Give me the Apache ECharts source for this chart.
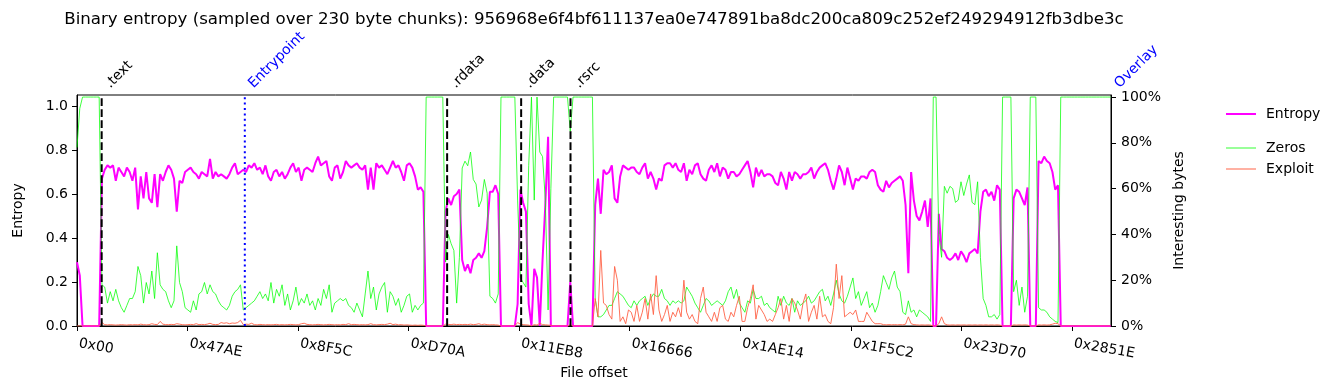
<!DOCTYPE html>
<html><head><meta charset="utf-8">
<script src="https://cdn.jsdelivr.net/npm/echarts@6/dist/echarts.min.js"></script>
<style>html,body{margin:0;padding:0;background:#fff}#c{width:1335px;height:390px}</style>
</head><body><div id="c"></div>
<script>
// ---- data ----
const chunkSize = 230;          // bytes per chunk
const chunksPerValue = 2;       // each value below covers 2 chunks
const fileEnd = 171640;         // last byte offset shown
const xTickValues = [0x0, 0x47AE, 0x8F5C, 0xD70A, 0x11EB8, 0x16666, 0x1AE14, 0x1F5C2, 0x23D70, 0x2851E];
const xTickLabels = ['0x00', '0x47AE', '0x8F5C', '0xD70A', '0x11EB8', '0x16666', '0x1AE14', '0x1F5C2', '0x23D70', '0x2851E'];
const entropyTicks = [0, 0.2, 0.4, 0.6, 0.8, 1.0];
const bytesTicks = [0, 0.2, 0.4, 0.6, 0.8, 1.0];
const sectionNames = ['.text', 'Entrypoint', '.rdata', '.data', '.rsrc', 'Overlay'];
const sectionOffsets = [0x1000, 0x6CD0, 0xF000, 0x12000, 0x14000, 171640];
const markerNames = ['Entrypoint', 'Overlay'];

const entropy = [
0.29,0.23,0,0,0,0,0,0,0,0.67,
0.71,0.73,0.72,0.73,0.66,0.72,0.70,0.68,0.72,0.70,
0.66,0.72,0.53,0.68,0.58,0.70,0.58,0.56,0.69,0.54,
0.69,0.66,0.70,0.73,0.71,0.67,0.52,0.66,0.65,0.70,
0.71,0.72,0.70,0.69,0.67,0.70,0.69,0.68,0.76,0.67,
0.70,0.68,0.69,0.68,0.67,0.69,0.72,0.74,0.69,0.70,
0.71,0.70,0.73,0.72,0.74,0.71,0.72,0.69,0.73,0.68,
0.66,0.70,0.71,0.68,0.70,0.67,0.69,0.72,0.74,0.70,
0.72,0.66,0.71,0.72,0.71,0.70,0.74,0.77,0.73,0.74,
0.75,0.68,0.66,0.72,0.73,0.67,0.70,0.75,0.73,0.72,
0.73,0.74,0.72,0.71,0.73,0.62,0.72,0.62,0.74,0.72,
0.73,0.71,0.69,0.72,0.75,0.72,0.73,0.70,0.66,0.73,
0.74,0.72,0.68,0.62,0.63,0.61,0,0,0,0,
0,0,0,0.52,0.58,0.55,0.59,0.60,0.62,0.30,
0.25,0.28,0.24,0.30,0.31,0.33,0.31,0.34,0.45,0.61,
0.61,0.64,0.60,0,0,0,0,0,0,0.10,
0.62,0.56,0.52,0.10,0,0.26,0.22,0,0.30,0.55,
0.86,0,0,0,0,0,0,0,0.20,0,
0,0,0,0,0,0,0,0.55,0.67,0.51,
0.71,0.69,0.70,0.73,0.58,0.56,0.68,0.73,0.72,0.71,
0.72,0.72,0.70,0.69,0.72,0.74,0.67,0.70,0.67,0.62,
0.67,0.66,0.73,0.74,0.74,0.72,0.74,0.71,0.70,0.74,
0.66,0.71,0.69,0.73,0.74,0.69,0.67,0.66,0.71,0.73,
0.70,0.74,0.68,0.72,0.71,0.67,0.70,0.70,0.68,0.69,
0.71,0.73,0.75,0.70,0.63,0.72,0.68,0.71,0.68,0.69,
0.69,0.68,0.65,0.64,0.70,0.67,0.62,0.70,0.66,0.70,
0.69,0.67,0.69,0.69,0.70,0.72,0.67,0.70,0.72,0.73,
0.74,0.71,0.66,0.62,0.67,0.73,0.70,0.64,0.72,0.67,
0.62,0.67,0.66,0.68,0.68,0.67,0.70,0.71,0.70,0.64,
0.62,0.61,0.66,0.63,0.65,0.66,0.67,0.68,0.66,0.55,
0.24,0.70,0.57,0.50,0.48,0.52,0.57,0.45,0.58,0,
0,0.51,0.35,0.34,0.31,0.30,0.31,0.33,0.30,0.34,
0.32,0.29,0.33,0.34,0.35,0.33,0.52,0.61,0.62,0.59,
0.61,0.57,0.64,0.62,0,0,0,0,0.58,0.62,
0.61,0.58,0.55,0.63,0,0,0,0.75,0.74,0.77,
0.75,0.74,0.70,0.62,0.64,0,0,0,0,0,
0,0,0,0,0,0,0,0,0,0,
0,0,0,0
];

const zeros = [
0.78,0.95,1,1,1,1,1,1,1,0.18,
0.17,0.10,0.15,0.11,0.16,0.11,0.08,0.06,0.09,0.12,
0.12,0.15,0.26,0.22,0.10,0.19,0.14,0.24,0.12,0.32,
0.18,0.16,0.15,0.11,0.08,0.11,0.35,0.19,0.15,0.08,
0.07,0.06,0.11,0.07,0.14,0.15,0.19,0.14,0.18,0.15,
0.14,0.11,0.09,0.08,0.07,0.09,0.13,0.15,0.16,0.18,
0.07,0.08,0.09,0.10,0.11,0.13,0.15,0.12,0.14,0.11,
0.19,0.10,0.16,0.13,0.18,0.09,0.14,0.07,0.11,0.17,
0.09,0.12,0.10,0.14,0.09,0.11,0.07,0.12,0.09,0.16,
0.12,0.18,0.06,0.10,0.11,0.12,0.11,0.12,0.09,0.08,
0.06,0.10,0.07,0.04,0.14,0.24,0.12,0.17,0.07,0.14,
0.17,0.19,0.06,0.15,0.13,0.09,0.12,0.06,0.09,0.13,
0.14,0.06,0.09,0.07,0.09,0.10,1,1,1,1,
1,1,1,0.28,0.40,0.36,0.33,0.10,0.30,0.69,
0.72,0.70,0.76,0.64,0.62,0.52,0.55,0.64,0.58,0.13,
0.12,0.10,0.14,1,1,1,1,1,1,0.55,
0.21,0.19,0.17,0.70,1,0.55,1,0.76,0.74,0.55,
0.07,0.60,1,1,1,1,1,1,0.85,1,
1,1,1,1,1,1,1,0.12,0.04,0.04,
0.05,0.07,0.09,0.09,0.12,0.15,0.14,0.13,0.11,0.09,
0.08,0.11,0.09,0.11,0.12,0.13,0.09,0.12,0.14,0.13,
0.13,0.16,0.12,0.11,0.09,0.11,0.10,0.11,0.10,0.11,
0.17,0.15,0.13,0.10,0.08,0.06,0.09,0.12,0.11,0.09,
0.10,0.11,0.10,0.09,0.11,0.15,0.17,0.12,0.16,0.10,
0.08,0.06,0.11,0.10,0.16,0.12,0.12,0.13,0.09,0.10,
0.08,0.07,0.06,0.13,0.09,0.13,0.10,0.09,0.12,0.06,
0.11,0.09,0.10,0.11,0.13,0.10,0.11,0.13,0.15,0.16,
0.11,0.13,0.09,0.14,0.20,0.14,0.11,0.10,0.13,0.17,
0.21,0.12,0.15,0.09,0.12,0.15,0.08,0.10,0.06,0.09,
0.15,0.22,0.19,0.16,0.21,0.24,0.17,0.15,0.06,0.05,
0.11,0.06,0.07,0.04,0.07,0.06,0.05,0.04,0.02,1,
1,0.40,0.30,0.61,0.58,0.61,0.60,0.54,0.55,0.63,
0.57,0.62,0.66,0.54,0.53,0.63,0.30,0.12,0.09,0.04,
0.04,0.05,0.03,0.05,1,1,1,1,0.15,0.20,
0.09,0.17,0.06,0.13,1,1,1,0.08,0.07,0.07,
0.06,0.04,0.03,0.02,0.015,1,1,1,1,1,
1,1,1,1,1,1,1,1,1,1,
1,1,1,1
];

const exploit = [
0,0,0,0,0,0,0,0,0,0.015,
0.006,0.005,0.006,0.005,0.004,0.005,0.006,0.005,0.004,0.006,
0.005,0.006,0.005,0.008,0.006,0.005,0.006,0.01,0.007,0.006,
0.02,0.008,0.006,0.006,0.007,0.006,0.01,0.008,0.006,0.005,
0.006,0.007,0.006,0.01,0.006,0.007,0.006,0.008,0.012,0.007,
0.006,0.007,0.015,0.012,0.014,0.01,0.013,0.012,0.015,0.025,
0.006,0.008,0.007,0.012,0.006,0.005,0.007,0.006,0.005,0.006,
0.005,0.006,0.007,0.005,0.006,0.005,0.006,0.007,0.006,0.005,
0.006,0.01,0.012,0.007,0.006,0.005,0.006,0.007,0.006,0.005,
0.006,0.007,0.006,0.005,0.006,0.005,0.007,0.006,0.01,0.006,
0.007,0.006,0.005,0.006,0.005,0.006,0.01,0.006,0.005,0.006,
0.007,0.006,0.008,0.012,0.006,0.008,0.005,0.006,0.004,0.005,
0.004,0.003,0.004,0.003,0.004,0.003,0,0,0,0,
0,0,0,0.008,0.007,0.006,0.008,0.006,0.007,0.006,
0.007,0.006,0.008,0.006,0.007,0.01,0.006,0.008,0.006,0.005,
0.006,0.005,0.004,0,0,0,0,0,0,0.015,
0.008,0.006,0.005,0.004,0,0.006,0.004,0.012,0.006,0.005,
0.004,0.003,0,0,0,0,0,0,0.005,0,
0,0,0,0,0,0,0,0.12,0.04,0.33,
0.10,0.09,0.05,0.03,0.26,0.20,0.02,0.04,0.01,0.07,
0.06,0.02,0.09,0.02,0.06,0.12,0.03,0.14,0.05,0.22,
0.07,0.02,0.05,0.09,0.02,0.06,0.04,0.08,0.04,0.20,
0.06,0.03,0.05,0.02,0.01,0.12,0.17,0.06,0.04,0.02,
0.06,0.02,0.08,0.09,0.03,0.02,0.06,0.04,0.09,0.13,
0.02,0.02,0.08,0.12,0.18,0.03,0.09,0.07,0.05,0.02,
0.03,0.02,0.05,0.08,0.12,0.03,0.09,0.02,0.12,0.10,
0.07,0.03,0.10,0.14,0.02,0.06,0.09,0.03,0.13,0.04,
0.05,0.02,0.01,0.08,0.27,0.12,0.22,0.04,0.05,0.06,
0.05,0.07,0.02,0.02,0.02,0.06,0.04,0.02,0.01,0.01,
0.01,0.006,0.005,0.006,0.005,0.006,0.005,0.006,0.005,0.008,
0.04,0.01,0.006,0.005,0.004,0.005,0.004,0.005,0.004,0,
0,0.01,0.04,0.01,0.005,0.004,0.005,0.004,0.005,0.004,
0.005,0.004,0.005,0.004,0.005,0.004,0.005,0.004,0.005,0.004,
0.005,0.004,0.005,0.004,0,0,0,0,0.005,0.004,
0.005,0.004,0.005,0.004,0,0,0,0.005,0.004,0.005,
0.004,0.005,0.008,0.012,0.01,0,0,0,0,0,
0,0,0,0,0,0,0,0,0,0,
0,0,0,0
];

// ---- chart ----
const FONT = '"DejaVu Sans", sans-serif';
const step = chunkSize * chunksPerValue;
const toPairs = arr => arr.map((v, i) => [i * step, v]);

const chart = echarts.init(document.getElementById('c'), null, {renderer: 'canvas'});
const option = {
  animation: false,
  backgroundColor: '#fff',
  textStyle: {fontFamily: FONT, color: '#000'},
  title: {
    text: 'Binary entropy (sampled over 230 byte chunks): 956968e6f4bf611137ea0e747891ba8dc200ca809c252ef249294912fb3dbe3c',
    left: 589, top: 6, textAlign: 'center',
    textStyle: {fontFamily: FONT, fontSize: 16.65, fontWeight: 'normal', color: '#000'}
  },
  legend: [
    {data: ['Entropy'], orient: 'vertical', left: 1226, top: 107, padding: 0, icon: 'rect',
     itemWidth: 30, itemHeight: 2, itemGap: 7,
     textStyle: {fontFamily: FONT, fontSize: 14, color: '#000', padding: [0, 0, 0, 5]}},
    {data: ['Zeros', 'Exploit'], orient: 'vertical', left: 1226, top: 141, padding: 0, icon: 'rect',
     itemWidth: 30, itemHeight: 1, itemGap: 7,
     textStyle: {fontFamily: FONT, fontSize: 14, color: '#000', padding: [0, 0, 0, 5]}}
  ],
  grid: {left: 77, right: 224, top: 95, bottom: 64, show: true, borderColor: '#000', borderWidth: 1,
         containLabel: false, outerBoundsMode: 'none'},
  xAxis: {
    type: 'value', min: 0, max: fileEnd,
    name: 'File offset', nameLocation: 'middle', nameGap: 38,
    nameTextStyle: {fontFamily: FONT, fontSize: 14, color: '#000'},
    axisLine: {lineStyle: {color: '#000', width: 1}},
    axisTick: {show: true, length: 5, lineStyle: {color: '#000'}, customValues: xTickValues},
    axisLabel: {customValues: xTickValues, rotate: -10, margin: 17, fontSize: 14, color: '#000', fontFamily: FONT,
                padding: [0, 0, 0, 2],
                formatter: v => xTickLabels[xTickValues.indexOf(v)] || ''},
    splitLine: {show: false}
  },
  yAxis: [
    {type: 'value', min: 0, max: 1.05, position: 'left',
     name: 'Entropy', nameLocation: 'middle', nameRotate: 90, nameGap: 52,
     nameTextStyle: {fontFamily: FONT, fontSize: 14, color: '#000'},
     axisLine: {show: true, lineStyle: {color: '#000'}},
     axisTick: {show: true, length: 5, lineStyle: {color: '#000'}, customValues: entropyTicks},
     axisLabel: {customValues: entropyTicks, margin: 9, fontSize: 14, color: '#000', fontFamily: FONT,
                 formatter: v => v.toFixed(1)},
     splitLine: {show: false}},
    {type: 'value', min: 0, max: 1.009, position: 'right',
     name: 'Interesting bytes', nameLocation: 'middle', nameRotate: 90, nameGap: 47,
     nameTextStyle: {fontFamily: FONT, fontSize: 14, color: '#000'},
     axisLine: {show: true, lineStyle: {color: '#000'}},
     axisTick: {show: true, length: 5, lineStyle: {color: '#000'}, customValues: bytesTicks},
     axisLabel: {customValues: bytesTicks, margin: 10, fontSize: 14, color: '#000', fontFamily: FONT,
                 formatter: v => Math.round(v * 100) + '%'},
     splitLine: {show: false}}
  ],
  series: [
    {name: 'Entropy', type: 'line', yAxisIndex: 0, data: toPairs(entropy), symbol: 'none', showSymbol: false,
     color: '#ff00ff', lineStyle: {color: '#ff00ff', width: 2}, z: 2},
    {name: 'Zeros', type: 'line', yAxisIndex: 1, data: toPairs(zeros), symbol: 'none', showSymbol: false,
     color: 'rgba(0,255,0,0.8)', lineStyle: {color: 'rgba(0,255,0,0.75)', width: 1}, z: 3},
    {name: 'Exploit', type: 'line', yAxisIndex: 1, data: toPairs(exploit), symbol: 'none', showSymbol: false,
     color: '#ff6347', lineStyle: {color: 'rgba(255,99,71,0.9)', width: 1}, z: 4},
    {name: 'sections', type: 'custom', yAxisIndex: 0, clip: false, silent: true, z: 5,
     data: sectionOffsets.map(o => [o, 0]),
     renderItem: function (params, api) {
       const off = api.value(0);
       const name = sectionNames[params.dataIndex];
       const blue = markerNames.indexOf(name) >= 0;
       const color = blue ? '#0000ff' : '#000000';
       const p0 = api.coord([off, 0]);
       const p1 = api.coord([off, 1.05]);
       const children = [];
       if (off < fileEnd) {
         children.push({type: 'line', shape: {x1: p0[0], y1: p0[1], x2: p1[0], y2: p1[1]},
           style: {stroke: color, lineWidth: 2, lineDash: blue ? [2, 3.4] : [7.7, 3.3]}});
       }
       children.push({type: 'text', x: p1[0] + 11, y: p1[1] - 4, rotation: Math.PI / 4,
         style: {text: name, fill: color, font: '14px ' + FONT, align: 'left', verticalAlign: 'bottom'}});
       return {type: 'group', children: children};
     }}
  ]
};
chart.setOption(option);
</script>
</body></html>
